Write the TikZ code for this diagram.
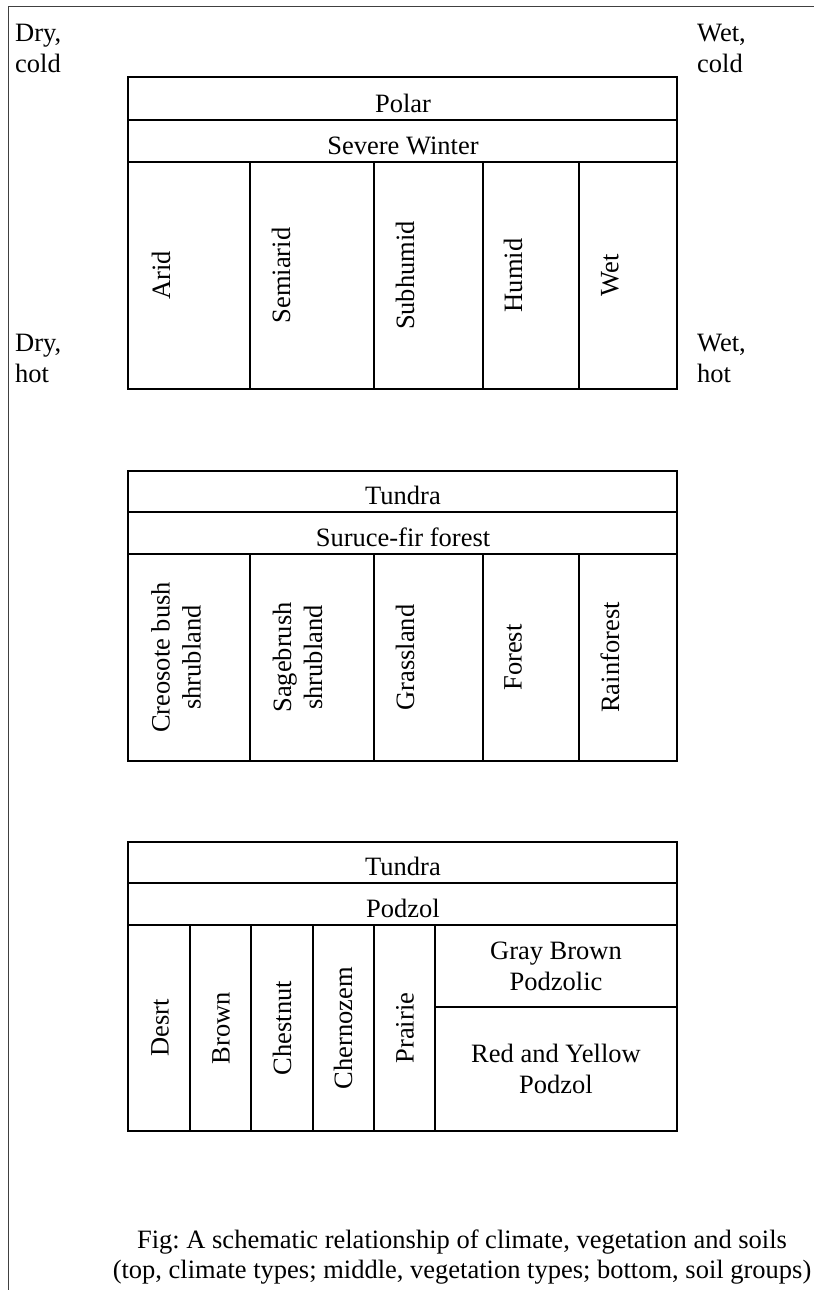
\documentclass[tikz,border=0pt]{standalone}
\usepackage{fontspec}
\setmainfont{Liberation Serif}
\frenchspacing
\begin{document}
\begin{tikzpicture}[x=1pt,y=-1pt,
  box/.style={draw=black,line width=2pt},
  frameline/.style={draw=black!75,line width=1pt},
  lbl/.style={inner sep=0pt,font=\fontsize{26.5}{31}\selectfont},
  rowlbl/.style={lbl,anchor=base},
  vlbl/.style={lbl,rotate=90,align=center,anchor=center},
  sidelbl/.style={lbl,align=left,anchor=north west},
  caption/.style={lbl,align=center,anchor=north,font=\fontsize{26.5}{30}\selectfont}]
\useasboundingbox (0,0) rectangle (814,1290);
% frame
\draw[frameline] (8.5,1290) -- (8.5,7) -- (814,7);
% side labels
\node[sidelbl] (drycold) at (15,23.5) {Dry,\\cold};
\node[sidelbl] (wetcold) at (697,23.5) {Wet,\\cold};
\node[sidelbl] (dryhot) at (15,333.5) {Dry,\\hot};
\node[sidelbl] (wethot) at (697,333.5) {Wet,\\hot};
% ---- climate table
\draw[box] (128,77) rectangle (677,389);
\draw[box] (128,120) -- (677,120);
\draw[box] (128,162) -- (677,162);
\foreach \c in {250,374,483,579} \draw[box] (\c,162) -- (\c,389);
\node[rowlbl] (polar) at (403,112.5) {Polar};
\node[rowlbl] (severe) at (403,154.5) {Severe Winter};
\node[vlbl] (arid) at (161,275.5) {Arid};
\node[vlbl] (semiarid) at (281,275.5) {Semiarid};
\node[vlbl] (subhumid) at (405,275.5) {Subhumid};
\node[vlbl] (humid) at (513,275.5) {Humid};
\node[vlbl] (wet) at (610,275.5) {Wet};
% ---- vegetation table
\draw[box] (128,471) rectangle (677,761);
\draw[box] (128,512) -- (677,512);
\draw[box] (128,554) -- (677,554);
\foreach \c in {250,374,483,579} \draw[box] (\c,554) -- (\c,761);
\node[rowlbl] (tundraA) at (403,504.5) {Tundra};
\node[rowlbl] (spruce) at (403,546.5) {Suruce-fir forest};
\node[vlbl] (creosote) at (176,657.5) {Creosote bush\\shrubland};
\node[vlbl] (sagebrush) at (297.5,657.5) {Sagebrush\\shrubland};
\node[vlbl] (grassland) at (405,657.5) {Grassland};
\node[vlbl] (forest) at (513,657.5) {Forest};
\node[vlbl] (rainforest) at (610,657.5) {Rainforest};
% ---- soil table
\draw[box] (128,842) rectangle (677,1131);
\draw[box] (128,883) -- (677,883);
\draw[box] (128,925) -- (677,925);
\foreach \c in {190,251,313,374,435} \draw[box] (\c,925) -- (\c,1131);
\draw[box] (435,1007) -- (677,1007);
\node[rowlbl] (tundraB) at (403,875.5) {Tundra};
\node[rowlbl] (podzol) at (403,917.5) {Podzol};
\node[vlbl] (desrt) at (160,1028) {Desrt};
\node[vlbl] (brown) at (221,1028) {Brown};
\node[vlbl] (chestnut) at (282,1028) {Chestnut};
\node[vlbl] (chernozem) at (343,1028) {Chernozem};
\node[vlbl] (prairie) at (405,1028) {Prairie};
\node[lbl,align=center] (graybrown) at (556,966) {Gray Brown\\Podzolic};
\node[lbl,align=center] (redyellow) at (556,1069) {Red and Yellow\\Podzol};
% caption
\node[caption] (cap) at (462,1230) {Fig: A schematic relationship of climate, vegetation and soils\\(top, climate types; middle, vegetation types; bottom, soil groups)};
\end{tikzpicture}
\end{document}
